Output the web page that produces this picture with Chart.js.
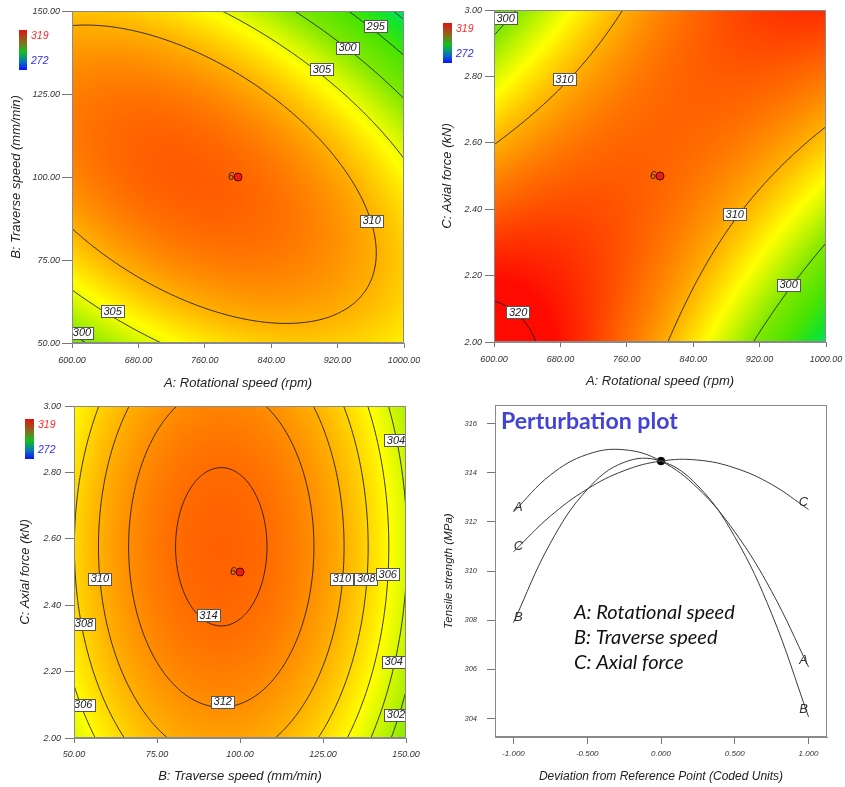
<!DOCTYPE html>
<html>
<head>
<meta charset="utf-8">
<script src="https://cdn.jsdelivr.net/npm/chart.js@4.4.1/dist/chart.umd.min.js"></script>
<style>
  html, body { margin: 0; padding: 0; background: #fff; }
  #wrap { position: relative; width: 845px; height: 787px; overflow: hidden; }
  canvas { position: absolute; }
</style>
</head>
<body>
<div id="wrap">
  <canvas id="cAB" width="420" height="395" style="left:0;top:0"></canvas>
  <canvas id="cAC" width="425" height="395" style="left:420px;top:0"></canvas>
  <canvas id="cBC" width="420" height="392" style="left:0;top:395px"></canvas>
  <canvas id="cPert" width="425" height="392" style="left:420px;top:395px"></canvas>
</div>
<script>
const FONT = "'Liberation Sans', Arial, sans-serif";

// factors, actual units at coded -1 / +1
const factorLow = [600, 50, 2.0];
const factorHigh = [1000, 150, 3.0];

// fitted quadratic model, tensile strength (MPa) in coded units
const intercept = 314.47;
const linearCoef = [-3.15, -1.915, 0.86];     // A, B, C
const squareCoef = [-5.22, -8.485, -2.83];    // A², B², C²
const interactionCoef = [-7.02, 13.09, 0.0];  // AB, AC, BC

const legendHigh = 319;
const legendLow = 272;

// tick labels
const aTicks = [600, 680, 760, 840, 920, 1000];
const bTicks = [50, 75, 100, 125, 150];
const cTicks = [2.0, 2.2, 2.4, 2.6, 2.8, 3.0];
const devTicks = [-1, -0.5, 0, 0.5, 1];
const strengthTicks = [304, 306, 308, 310, 312, 314, 316];

// contour levels
const levelsAB = [290, 295, 300, 305, 310];
const levelsAC = [300, 310, 320];
const levelsBC = [302, 304, 306, 308, 310, 312, 314];

// contour labels [x, y, text]
const labelsAB = [[966, 145.5, "295"], [932, 139, "300"], [901, 132.5, "305"], [961, 86.8, "310"], [649, 59.6, "305"], [612, 53.1, "300"]];
const labelsAC = [[614, 2.975, "300"], [685, 2.792, "310"], [890, 2.385, "310"], [955, 2.172, "300"], [629, 2.09, "320"]];
const labelsBC = [[147, 2.897, "304"], [57.8, 2.48, "310"], [130.7, 2.48, "310"], [138, 2.48, "308"], [144.5, 2.494, "306"],
                  [53, 2.344, "308"], [52.8, 2.10, "306"], [90.5, 2.369, "314"], [94.8, 2.109, "312"], [146.3, 2.23, "304"], [147, 2.07, "302"]];

// perturbation plot
const devPoints = [-1, -0.75, -0.5, -0.25, 0, 0.25, 0.5, 0.75, 1];
const curveA = [312.4, 313.9, 314.74, 314.93, 314.47, 313.36, 311.59, 309.17, 306.1];
const curveB = [307.9, 311.13, 313.31, 314.42, 314.47, 313.46, 311.39, 308.26, 304.07];
const curveC = [310.78, 312.23, 313.33, 314.08, 314.47, 314.51, 314.19, 313.52, 312.5];
const referenceValue = 314.47;
const factorLegend = ["A: Rotational speed", "B: Traverse speed", "C: Axial force"];

function coded(v, k) {
  const mid = (factorLow[k] + factorHigh[k]) / 2, half = (factorHigh[k] - factorLow[k]) / 2;
  return (v - mid) / half;
}
function strength(x) {
  let y = intercept;
  for (let k = 0; k < 3; k++) y += linearCoef[k] * x[k] + squareCoef[k] * x[k] * x[k];
  return y + interactionCoef[0] * x[0] * x[1] + interactionCoef[1] * x[0] * x[2] + interactionCoef[2] * x[1] * x[2];
}

// colour ramp blue -> green -> yellow -> red
const rampStops = [
  [0.00, [0, 0, 255]], [0.20, [0, 150, 210]], [0.36, [0, 226, 105]], [0.42, [20, 228, 40]],
  [0.50, [75, 228, 0]], [0.60, [130, 232, 0]], [0.65, [180, 242, 0]], [0.72, [255, 255, 0]],
  [0.81, [255, 175, 0]], [0.91, [255, 95, 0]], [1.00, [255, 10, 0]]
];
function ramp(v) {
  let t = (v - legendLow) / (legendHigh - legendLow);
  t = Math.max(0, Math.min(1, t));
  for (let i = 1; i < rampStops.length; i++) {
    if (t <= rampStops[i][0]) {
      const [t0, c0] = rampStops[i - 1], [t1, c1] = rampStops[i];
      const u = (t - t0) / (t1 - t0);
      return [0, 1, 2].map(k => c0[k] + u * (c1[k] - c0[k]));
    }
  }
  return rampStops[rampStops.length - 1][1];
}

function segments(xs, ys, z, level) {
  const segs = [];
  for (let j = 0; j < ys.length - 1; j++) {
    for (let i = 0; i < xs.length - 1; i++) {
      const v0 = z[j][i], v1 = z[j][i + 1], v2 = z[j + 1][i + 1], v3 = z[j + 1][i];
      const pts = [];
      const edge = (va, vb, xa, ya, xb, yb) => {
        if ((va < level) !== (vb < level)) {
          const t = (level - va) / (vb - va);
          pts.push([xa + t * (xb - xa), ya + t * (yb - ya)]);
        }
      };
      edge(v0, v1, xs[i], ys[j], xs[i + 1], ys[j]);
      edge(v1, v2, xs[i + 1], ys[j], xs[i + 1], ys[j + 1]);
      edge(v2, v3, xs[i + 1], ys[j + 1], xs[i], ys[j + 1]);
      edge(v3, v0, xs[i], ys[j + 1], xs[i], ys[j]);
      if (pts.length === 2) segs.push(pts);
      else if (pts.length === 4) { segs.push([pts[0], pts[1]]); segs.push([pts[2], pts[3]]); }
    }
  }
  return segs;
}

function xAxis(min, max, ticks, fmt, title, o) {
  return {
    type: 'linear', min, max,
    afterBuildTicks: s => { s.ticks = ticks.map(v => ({ value: v })); },
    afterFit: s => { s.height = o.h; s.paddingLeft = 0; s.paddingRight = 0; },
    ticks: { callback: fmt, font: { family: FONT, size: o.tickSize || 9, style: 'italic' }, color: '#333', padding: o.pad, maxRotation: 0, autoSkip: false },
    grid: { display: true, drawOnChartArea: false, drawTicks: true, tickLength: o.tl, color: '#777', tickColor: '#777' },
    border: { display: true, color: '#8a8a8a' },
    title: { display: true, text: title, font: { family: FONT, size: o.titleSize || 13, style: 'italic' }, color: '#222', padding: { top: 0, bottom: o.titlePad } }
  };
}
function yAxis(min, max, ticks, fmt, title, o) {
  return {
    type: 'linear', min, max,
    afterBuildTicks: s => { s.ticks = ticks.map(v => ({ value: v })); },
    afterFit: s => { s.width = o.w; s.paddingTop = 0; s.paddingBottom = 0; },
    ticks: { callback: fmt, font: { family: FONT, size: o.tickSize || 9, style: 'italic' }, color: '#333', padding: o.pad, autoSkip: false },
    grid: { display: true, drawOnChartArea: false, drawTicks: true, tickLength: o.tl, color: '#777', tickColor: '#777' },
    border: { display: true, color: '#8a8a8a' },
    title: { display: true, text: title, font: { family: FONT, size: o.titleSize || 13, style: 'italic' }, color: '#222', padding: { top: o.titlePad, bottom: 0 } }
  };
}

function contourChart(id, o) {
  const fx = (xv, yv) => {
    const c = [0, 0, 0];
    c[o.xk] = coded(xv, o.xk);
    c[o.yk] = coded(yv, o.yk);
    return strength(c);
  };
  const surface = {
    id: 'surface',
    beforeDatasetsDraw(chart) {
      const { ctx, chartArea: ca, scales: { x, y } } = chart;
      const L = Math.round(ca.left), T = Math.round(ca.top);
      const w = Math.round(ca.right) - L, h = Math.round(ca.bottom) - T;
      const img = ctx.createImageData(w, h);
      for (let j = 0; j < h; j++) {
        const yv = y.getValueForPixel(T + j + 0.5);
        for (let i = 0; i < w; i++) {
          const c = ramp(fx(x.getValueForPixel(L + i + 0.5), yv));
          const p = (j * w + i) * 4;
          img.data[p] = c[0]; img.data[p + 1] = c[1]; img.data[p + 2] = c[2]; img.data[p + 3] = 255;
        }
      }
      ctx.putImageData(img, L, T);

      // contour lines
      const n = 200, xs = [], ys = [], z = [];
      for (let i = 0; i <= n; i++) xs.push(x.min + (x.max - x.min) * i / n);
      for (let j = 0; j <= n; j++) ys.push(y.min + (y.max - y.min) * j / n);
      for (let j = 0; j <= n; j++) z.push(xs.map(xv => fx(xv, ys[j])));
      ctx.save();
      ctx.beginPath();
      ctx.rect(ca.left, ca.top, ca.right - ca.left, ca.bottom - ca.top);
      ctx.clip();
      ctx.strokeStyle = '#1a1a1a';
      ctx.lineWidth = 0.9;
      o.levels.forEach(level => {
        ctx.beginPath();
        segments(xs, ys, z, level).forEach(([p, q]) => {
          ctx.moveTo(x.getPixelForValue(p[0]), y.getPixelForValue(p[1]));
          ctx.lineTo(x.getPixelForValue(q[0]), y.getPixelForValue(q[1]));
        });
        ctx.stroke();
      });
      ctx.restore();
    },
    afterDatasetsDraw(chart) {
      const { ctx, chartArea: ca, scales: { x, y } } = chart;
      ctx.save();
      ctx.beginPath();
      ctx.rect(ca.left, ca.top, ca.right - ca.left, ca.bottom - ca.top);
      ctx.clip();
      ctx.font = 'italic 11px ' + FONT;
      ctx.textAlign = 'center';
      ctx.textBaseline = 'middle';
      o.labels.forEach(([lx, ly, txt]) => {
        const px = x.getPixelForValue(lx), py = y.getPixelForValue(ly);
        const tw = ctx.measureText(txt).width + 5;
        ctx.fillStyle = '#fff';
        ctx.fillRect(Math.round(px - tw / 2) + 0.5, Math.round(py - 6) + 0.5, Math.round(tw), 12);
        ctx.strokeStyle = '#555';
        ctx.lineWidth = 1;
        ctx.strokeRect(Math.round(px - tw / 2) + 0.5, Math.round(py - 6) + 0.5, Math.round(tw), 12);
        ctx.fillStyle = '#222';
        ctx.fillText(txt, px, py + 0.5);
      });
      // design point count
      const cx = x.getPixelForValue((factorLow[o.xk] + factorHigh[o.xk]) / 2);
      const cy = y.getPixelForValue((factorLow[o.yk] + factorHigh[o.yk]) / 2);
      ctx.textAlign = 'right';
      ctx.fillText('6', cx - 4, cy);
      ctx.restore();

      // frame
      ctx.strokeStyle = '#8a8a8a';
      ctx.lineWidth = 1;
      ctx.strokeRect(Math.round(ca.left) + 0.5, Math.round(ca.top) + 0.5, Math.round(ca.right - ca.left) - 1, Math.round(ca.bottom - ca.top) - 1);

      // colour legend
      const b = o.bar;
      const g = ctx.createLinearGradient(0, b.y, 0, b.y + b.h);
      g.addColorStop(0, '#e01414');
      g.addColorStop(0.3, '#8a6a1e');
      g.addColorStop(0.55, '#12c020');
      g.addColorStop(0.8, '#0a70c0');
      g.addColorStop(1, '#1010ff');
      ctx.fillStyle = g;
      ctx.fillRect(b.x, b.y, b.w, b.h);
      ctx.font = 'italic 10.5px ' + FONT;
      ctx.textAlign = 'left';
      ctx.textBaseline = 'middle';
      ctx.fillStyle = '#ff2a2a';
      ctx.fillText(String(legendHigh), b.x + b.w + 4, b.y + 6);
      ctx.fillStyle = '#2a2aff';
      ctx.fillText(String(legendLow), b.x + b.w + 4, b.y + b.h - 9);
    }
  };

  return new Chart(document.getElementById(id), {
    type: 'scatter',
    data: {
      datasets: [{
        data: [{ x: (factorLow[o.xk] + factorHigh[o.xk]) / 2, y: (factorLow[o.yk] + factorHigh[o.yk]) / 2 }],
        pointRadius: 4, pointBackgroundColor: '#f01c10', pointBorderColor: '#4a0000', pointBorderWidth: 1
      }]
    },
    options: {
      responsive: false,
      animation: false,
      layout: { padding: { top: o.top, right: o.right, left: 0, bottom: 0 } },
      plugins: { legend: { display: false }, tooltip: { enabled: false } },
      scales: {
        x: xAxis(factorLow[o.xk], factorHigh[o.xk], o.xTicks, v => v.toFixed(2), o.xTitle, o.xo),
        y: yAxis(factorLow[o.yk], factorHigh[o.yk], o.yTicks, v => v.toFixed(2), o.yTitle, o.yo)
      }
    },
    plugins: [surface]
  });
}

contourChart('cAB', {
  xk: 0, yk: 1, xTicks: aTicks, yTicks: bTicks, levels: levelsAB, labels: labelsAB,
  xTitle: 'A: Rotational speed (rpm)', yTitle: 'B: Traverse speed (mm/min)',
  top: 11, right: 16,
  xo: { h: 52, tl: 5, pad: 7, titlePad: 4 },
  yo: { w: 72, tl: 10, pad: 2, titlePad: 9 },
  bar: { x: 19, y: 30, w: 8, h: 40 }
});
contourChart('cAC', {
  xk: 0, yk: 2, xTicks: aTicks, yTicks: cTicks, levels: levelsAC, labels: labelsAC,
  xTitle: 'A: Rotational speed (rpm)', yTitle: 'C: Axial force (kN)',
  top: 10, right: 19,
  xo: { h: 53, tl: 5, pad: 7, titlePad: 5.5 },
  yo: { w: 74, tl: 9, pad: 3, titlePad: 20 },
  bar: { x: 23, y: 23, w: 9, h: 40 }
});
contourChart('cBC', {
  xk: 1, yk: 2, xTicks: bTicks, yTicks: cTicks, levels: levelsBC, labels: labelsBC,
  xTitle: 'B: Traverse speed (mm/min)', yTitle: 'C: Axial force (kN)',
  top: 11, right: 14,
  xo: { h: 49, tl: 5, pad: 6, titlePad: 2.5 },
  yo: { w: 74, tl: 9, pad: 4, titlePad: 18 },
  bar: { x: 25, y: 24, w: 9, h: 40 }
});

// perturbation plot
const pertDecor = {
  id: 'pertDecor',
  afterDatasetsDraw(chart) {
    const { ctx, chartArea: ca, scales: { x, y } } = chart;
    ctx.save();
    ctx.strokeStyle = '#8a8a8a';
    ctx.lineWidth = 1;
    ctx.strokeRect(Math.round(ca.left) + 0.5, Math.round(ca.top) + 0.5, Math.round(ca.right - ca.left) - 1, Math.round(ca.bottom - ca.top) - 1);

    // curve end letters
    ctx.font = 'italic 13px ' + FONT;
    ctx.fillStyle = '#333';
    ctx.textAlign = 'center';
    ctx.textBaseline = 'middle';
    [['A', curveA], ['B', curveB], ['C', curveC]].forEach(([name, arr]) => {
      const x0 = x.getPixelForValue(devPoints[0]), y0 = y.getPixelForValue(arr[0]);
      const x1 = x.getPixelForValue(devPoints[devPoints.length - 1]), y1 = y.getPixelForValue(arr[arr.length - 1]);
      ctx.fillText(name, x0 + 5, y0 - 5);
      ctx.fillText(name, x1 - 5, y1 - 7);
    });

    // title
    ctx.textAlign = 'left';
    ctx.textBaseline = 'alphabetic';
    ctx.font = 'bold 22px Lato, sans-serif';
    let tw = ctx.measureText('Perturbation plot').width;
    const ts = 22 * 177 / tw;
    ctx.font = 'bold ' + ts.toFixed(1) + 'px Lato, sans-serif';
    ctx.fillStyle = '#4343d6';
    ctx.fillText('Perturbation plot', ca.left + 6, ca.top + 24);

    // factor legend
    ctx.font = 'italic 19px Lato, sans-serif';
    tw = ctx.measureText(factorLegend[0]).width;
    const ls = 19 * 161 / tw;
    ctx.font = 'italic ' + ls.toFixed(1) + 'px Lato, sans-serif';
    ctx.fillStyle = '#111';
    ctx.textBaseline = 'middle';
    factorLegend.forEach((t, i) => ctx.fillText(t, ca.left + 79, ca.top + 208 + i * 25));
    ctx.restore();
  }
};

const curveStyle = { showLine: true, tension: 0.4, pointRadius: 0, borderColor: '#3a3a3a', borderWidth: 1, fill: false };
new Chart(document.getElementById('cPert'), {
  type: 'scatter',
  data: {
    datasets: [
      Object.assign({ data: devPoints.map((d, i) => ({ x: d, y: curveA[i] })) }, curveStyle),
      Object.assign({ data: devPoints.map((d, i) => ({ x: d, y: curveB[i] })) }, curveStyle),
      Object.assign({ data: devPoints.map((d, i) => ({ x: d, y: curveC[i] })) }, curveStyle),
      { data: [{ x: 0, y: referenceValue }], pointRadius: 3.8, pointBackgroundColor: '#000', pointBorderColor: '#000' }
    ]
  },
  options: {
    responsive: false,
    animation: false,
    layout: { padding: { top: 10, right: 18, left: 0, bottom: 0 } },
    plugins: { legend: { display: false }, tooltip: { enabled: false } },
    scales: {
      x: xAxis(-1.125, 1.125, devTicks, v => v.toFixed(3), 'Deviation from Reference Point (Coded Units)',
               { h: 50, tl: 7, pad: 5, titlePad: 3.5, tickSize: 8, titleSize: 12 }),
      y: yAxis(303.25, 316.75, strengthTicks, v => String(v), 'Tensile strength (MPa)',
               { w: 75, tl: 8, pad: 10, titlePad: 22, tickSize: 7.5, titleSize: 11.5 })
    }
  },
  plugins: [pertDecor]
});
</script>
</body>
</html>
